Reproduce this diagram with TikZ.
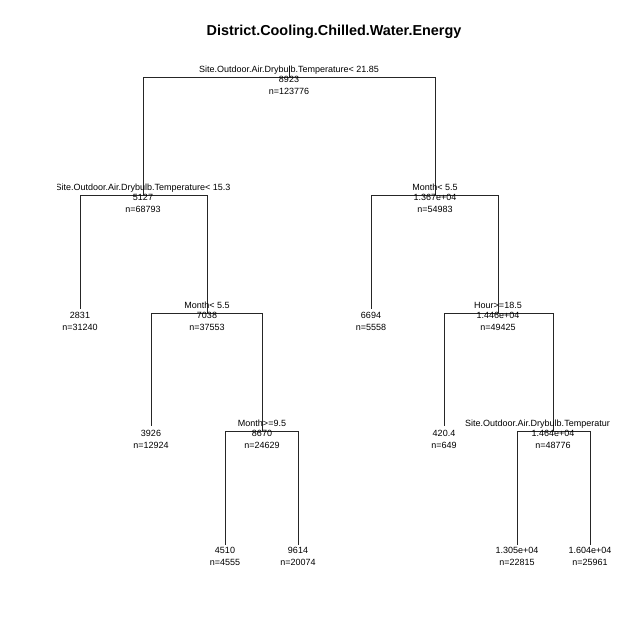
\documentclass[tikz,border=0pt]{standalone}
\usepackage{fontspec}
\setmainfont{Liberation Sans}
\begin{document}
\begin{tikzpicture}[x=1pt,y=-1pt,
  lbl/.style={font=\fontsize{9}{10}\selectfont, inner sep=0pt, anchor=base},
  branch/.style={draw=black!85, line width=0.6pt},
  ttl/.style={font=\fontsize{14.4}{16}\selectfont\bfseries, inner sep=0pt, anchor=base}]
\useasboundingbox[fill=white] (0,0) rectangle (640,640);
\node[ttl] (title) at (334,35) {District.Cooling.Chilled.Water.Energy};
\newcommand\putlab[5]{%
  \node[lbl] (#1-v) at (#2,#3+5.6) {#4};
  \node[lbl] (#1-n) at (#2,#3+17) {#5};}
\newcommand\putsplit[4]{%
  \node[lbl] (#1-s) at (#2,#3-4.5) {#4};}
\begin{scope}
\clip (57,57) rectangle (611,600);
% node points (bars) and leaf ends
\coordinate (root) at (289,77);
\coordinate (roottop) at (289,66);
\coordinate (a) at (143,195);
\coordinate (b) at (435,195);
\coordinate (a1) at (80,309);
\coordinate (a2) at (207,313);
\coordinate (a21) at (151,426);
\coordinate (a22) at (262,431);
\coordinate (a221) at (225,545);
\coordinate (a222) at (298,545);
\coordinate (b1) at (371,309);
\coordinate (b2) at (498,313);
\coordinate (b21) at (444,426);
\coordinate (b22) at (553,431);
\coordinate (b221) at (517,545);
\coordinate (b222) at (590,545);
% connectors
\draw[branch] (roottop) -- (root);
\draw[branch] (root) -| (a);
\draw[branch] (root) -| (b);
\draw[branch] (a) -| (a1);
\draw[branch] (a) -| (a2);
\draw[branch] (a2) -| (a21);
\draw[branch] (a2) -| (a22);
\draw[branch] (a22) -| (a221);
\draw[branch] (a22) -| (a222);
\draw[branch] (b) -| (b1);
\draw[branch] (b) -| (b2);
\draw[branch] (b2) -| (b21);
\draw[branch] (b2) -| (b22);
\draw[branch] (b22) -| (b221);
\draw[branch] (b22) -| (b222);
% labels
\putsplit{root}{289}{77}{Site.Outdoor.Air.Drybulb.Temperature< 21.85}
\putlab{root}{289}{77}{8923}{n=123776}
\putsplit{a}{143}{195}{Site.Outdoor.Air.Drybulb.Temperature< 15.3}
\putlab{a}{143}{195}{5127}{n=68793}
\putsplit{b}{435}{195}{Month< 5.5}
\putlab{b}{435}{195}{1.367e+04}{n=54983}
\putlab{a1}{80}{313}{2831}{n=31240}
\putsplit{a2}{207}{313}{Month< 5.5}
\putlab{a2}{207}{313}{7038}{n=37553}
\putlab{a21}{151}{431}{3926}{n=12924}
\putsplit{a22}{262}{431}{Month>=9.5}
\putlab{a22}{262}{431}{8670}{n=24629}
\putlab{a221}{225}{548}{4510}{n=4555}
\putlab{a222}{298}{548}{9614}{n=20074}
\putlab{b1}{371}{313}{6694}{n=5558}
\putsplit{b2}{498}{313}{Hour>=18.5}
\putlab{b2}{498}{313}{1.446e+04}{n=49425}
\putlab{b21}{444}{431}{420.4}{n=649}
\node[lbl, anchor=base west] (b22-s) at (465,431-4.5) {Site.Outdoor.Air.Drybulb.Temperatur};
\putlab{b22}{553}{431}{1.464e+04}{n=48776}
\putlab{b221}{517}{548}{1.305e+04}{n=22815}
\putlab{b222}{590}{548}{1.604e+04}{n=25961}
\end{scope}
\end{tikzpicture}
\end{document}
